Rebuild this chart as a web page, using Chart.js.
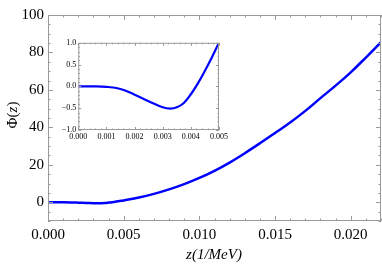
<!DOCTYPE html>
<html>
<head>
<meta charset="utf-8">
<script src="https://cdn.jsdelivr.net/npm/chart.js@4/dist/chart.umd.min.js"></script>
<style>
body { margin: 0; background: #fff; }
#wrap { position: relative; width: 382px; height: 270px; }
#mainChart { position: absolute; left: 0; top: 0; }
#insetChart { position: absolute; left: 50px; top: 36px; }
</style>
</head>
<body>
<div id="wrap">
<canvas id="mainChart" width="382" height="270"></canvas>
<canvas id="insetChart" width="180" height="112"></canvas>
</div>
<script>
// z in 1/MeV, Phi(z)
const zValues = [0, 0.0005, 0.001, 0.0015, 0.002, 0.0025, 0.003, 0.00327, 0.0035, 0.00375,
    0.004, 0.00425, 0.0045, 0.00475, 0.005, 0.006, 0.007, 0.008, 0.009, 0.010, 0.011,
    0.012, 0.013, 0.014, 0.015, 0.016, 0.017, 0.018, 0.019, 0.020, 0.021, 0.022];
const phiValues = [0, 0, -0.01, -0.06, -0.19, -0.34, -0.48, -0.51, -0.48, -0.38,
    -0.18, 0.07, 0.36, 0.67, 1.0, 2.5, 4.5, 6.9, 9.7, 13.0, 16.8,
    21.2, 26.2, 31.5, 37.0, 42.6, 48.8, 55.6, 62.3, 69.4, 77.3, 85.5];

const xTicks = [0, 0.005, 0.010, 0.015, 0.020];
const yTicks = [0, 20, 40, 60, 80, 100];
const insetXTicks = [0, 0.001, 0.002, 0.003, 0.004, 0.005];
const insetYTicks = [-1, -0.5, 0, 0.5, 1];

const serif = '"Liberation Serif", "DejaVu Serif", serif';
const frameColor = '#9a9a9a';

// рамка с засечками внутрь на всех четырёх сторонах
const frameTicks = {
    id: 'frameTicks',
    afterDraw(chart, args, opts) {
        const ctx = chart.ctx;
        const a = chart.chartArea;
        const xs = chart.scales.x;
        const ys = chart.scales.y;
        ctx.save();
        ctx.strokeStyle = frameColor;
        ctx.lineWidth = 1;
        ctx.strokeRect(a.left + 0.5, a.top + 0.5, a.right - a.left - 1, a.bottom - a.top - 1);
        ctx.beginPath();
        const nx = Math.round((xs.max - xs.min) / opts.xMinor);
        for (let i = 0; i <= nx; i++) {
            const v = xs.min + i * opts.xMinor;
            const major = Math.abs(v / opts.xMajor - Math.round(v / opts.xMajor)) < 1e-6;
            const len = major ? opts.major : opts.minor;
            const px = Math.round(xs.getPixelForValue(v)) + 0.5;
            ctx.moveTo(px, a.bottom); ctx.lineTo(px, a.bottom - len);
            ctx.moveTo(px, a.top); ctx.lineTo(px, a.top + len);
        }
        const ny = Math.round((ys.max - ys.min) / opts.yMinor);
        for (let i = 0; i <= ny; i++) {
            const v = ys.min + i * opts.yMinor;
            const major = Math.abs(v / opts.yMajor - Math.round(v / opts.yMajor)) < 1e-6;
            const len = major ? opts.major : opts.minor;
            const py = Math.round(ys.getPixelForValue(v)) + 0.5;
            ctx.moveTo(a.left, py); ctx.lineTo(a.left + len, py);
            ctx.moveTo(a.right, py); ctx.lineTo(a.right - len, py);
        }
        ctx.stroke();
        ctx.restore();
    }
};

// подписи осей главного графика
const axisTitles = {
    id: 'axisTitles',
    afterDraw(chart) {
        const ctx = chart.ctx;
        ctx.save();
        ctx.fillStyle = '#000';
        ctx.textBaseline = 'middle';
        // Phi(z) вертикально
        ctx.translate(13, 115);
        ctx.rotate(-Math.PI / 2);
        const parts = [['\u03A6(', 'normal'], ['z', 'italic'], [')', 'normal']];
        let w = 0;
        parts.forEach(p => { ctx.font = p[1] + ' 15px ' + serif; w += ctx.measureText(p[0]).width; });
        let x = -w / 2;
        ctx.textAlign = 'left';
        parts.forEach(p => {
            ctx.font = p[1] + ' 15px ' + serif;
            ctx.fillText(p[0], x, 0);
            x += ctx.measureText(p[0]).width;
        });
        ctx.restore();

        ctx.save();
        ctx.fillStyle = '#000';
        ctx.textBaseline = 'middle';
        ctx.textAlign = 'center';
        ctx.font = 'italic 15px ' + serif;
        ctx.fillText('z(1/MeV)', 214, 255);
        ctx.restore();
    }
};

function toPoints(maxZ) {
    const pts = [];
    for (let i = 0; i < zValues.length; i++) {
        if (zValues[i] <= maxZ + 1e-9) pts.push({ x: zValues[i], y: phiValues[i] });
    }
    return pts;
}

function minusSign(s) {
    return s.replace('-', '\u2212');
}

new Chart(document.getElementById('mainChart').getContext('2d'), {
    type: 'scatter',
    data: {
        datasets: [{
            data: toPoints(1),
            showLine: true,
            borderColor: '#0000ff',
            borderWidth: 2.5,
            pointRadius: 0,
            tension: 0.4
        }]
    },
    options: {
        responsive: false,
        animation: false,
        layout: { padding: { top: 15, right: 1, left: 0, bottom: 0 } },
        plugins: {
            legend: { display: false },
            tooltip: { enabled: false },
            frameTicks: { xMinor: 0.001, xMajor: 0.005, yMinor: 5, yMajor: 20, major: 5, minor: 2.5 }
        },
        scales: {
            x: {
                type: 'linear', min: 0, max: 0.022,
                grid: { display: false, drawTicks: false },
                border: { display: false },
                ticks: { color: '#000', font: { family: serif, size: 15 }, padding: 5, maxRotation: 0,
                    callback: v => v.toFixed(3) },
                afterBuildTicks: s => { s.ticks = xTicks.map(v => ({ value: v })); },
                afterFit: s => { s.height = 49; }
            },
            y: {
                type: 'linear', min: -10, max: 100,
                grid: { display: false, drawTicks: false },
                border: { display: false },
                ticks: { color: '#000', font: { family: serif, size: 15 }, padding: 4,
                    callback: v => String(v) },
                afterBuildTicks: s => { s.ticks = yTicks.map(v => ({ value: v })); },
                afterFit: s => { s.width = 48; }
            }
        }
    },
    plugins: [frameTicks, axisTitles]
});

// врезка
new Chart(document.getElementById('insetChart').getContext('2d'), {
    type: 'scatter',
    data: {
        datasets: [{
            data: toPoints(0.005),
            showLine: true,
            borderColor: '#0000ff',
            borderWidth: 2.2,
            pointRadius: 0,
            tension: 0.4
        }]
    },
    options: {
        responsive: false,
        animation: false,
        layout: { padding: { top: 6.3, right: 9, left: 0, bottom: 0 } },
        plugins: {
            legend: { display: false },
            tooltip: { enabled: false },
            frameTicks: { xMinor: 0.0002, xMajor: 0.001, yMinor: 0.1, yMajor: 0.5, major: 3, minor: 1.5 }
        },
        scales: {
            x: {
                type: 'linear', min: 0, max: 0.005,
                grid: { display: false, drawTicks: false },
                border: { display: false },
                ticks: { color: '#000', font: { family: serif, size: 8 }, padding: 2, maxRotation: 0,
                    callback: v => v.toFixed(3) },
                afterBuildTicks: s => { s.ticks = insetXTicks.map(v => ({ value: v })); },
                afterFit: s => { s.height = 18; }
            },
            y: {
                type: 'linear', min: -1, max: 1,
                grid: { display: false, drawTicks: false },
                border: { display: false },
                ticks: { color: '#000', font: { family: serif, size: 8 }, padding: 2,
                    callback: v => minusSign(v.toFixed(1)) },
                afterBuildTicks: s => { s.ticks = insetYTicks.map(v => ({ value: v })); },
                afterFit: s => { s.width = 28.3; }
            }
        }
    },
    plugins: [frameTicks]
});
</script>
</body>
</html>
